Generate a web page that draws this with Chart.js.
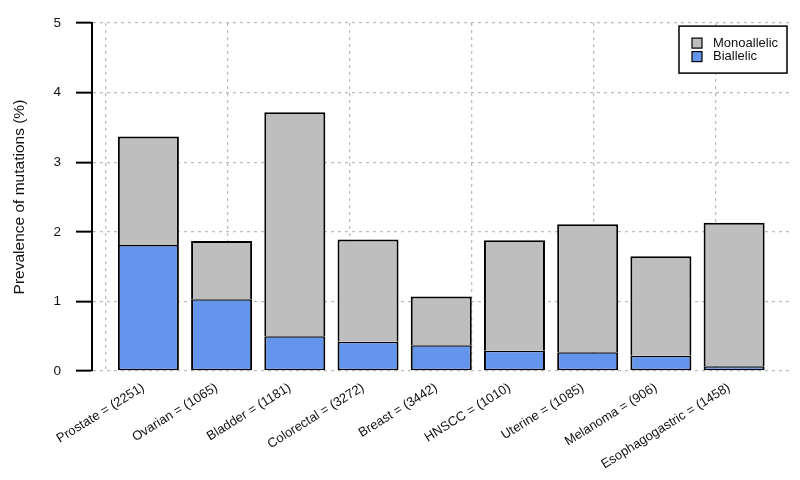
<!DOCTYPE html>
<html>
<head>
<meta charset="utf-8">
<script src="https://cdn.jsdelivr.net/npm/chart.js@4.4.1/dist/chart.umd.min.js"></script>
<style>
  html, body { margin: 0; padding: 0; background: #fff; }
  #wrap { width: 800px; height: 480px; position: relative; }
</style>
</head>
<body>
<div id="wrap"><canvas id="chart"></canvas></div>
<script>
// cancer types with sample size
const categories = [
    'Prostate = (2251)', 'Ovarian = (1065)', 'Bladder = (1181)',
    'Colorectal = (3272)', 'Breast = (3442)', 'HNSCC = (1010)',
    'Uterine = (1085)', 'Melanoma = (906)', 'Esophagogastric = (1458)'
];
// prevalence (%) of each part of the stacked bar
const biallelic   = [1.81, 1.03, 0.50, 0.42, 0.37, 0.29, 0.27, 0.22, 0.07];
const monoallelic = [1.56, 0.84, 3.22, 1.47, 0.70, 1.59, 1.84, 1.43, 2.06];
const yTicks = [0, 1, 2, 3, 4, 5];
const xGrid = [0, 2, 4, 6, 8, 10];

// barplot-like layout: bar width 1, space 0.2, axis range padded by 4%
const space = 0.2;
const center = i => space + i * (1 + space) + 0.5;
const xLo = space, xHi = categories.length * (1 + space);
const xPad = (xHi - xLo) * 0.04;

const FONT = '"Liberation Sans", Arial, sans-serif';
const GRID = '#bdbdbd';

const boxLegend = {
    id: 'boxLegend',
    afterDraw(chart) {
        const { ctx, chartArea } = chart;
        const items = chart.data.datasets.slice().reverse();
        const w = 108, h = 47;
        const x = chartArea.right - 3.5 - w, y = chartArea.top + 3;
        ctx.save();
        ctx.fillStyle = '#fff';
        ctx.fillRect(x, y, w, h);
        ctx.strokeStyle = '#000';
        ctx.lineWidth = 1.5;
        ctx.strokeRect(x, y, w, h);
        ctx.font = '13px ' + FONT;
        ctx.textBaseline = 'middle';
        items.forEach((ds, i) => {
            const cy = y + 17 + i * 13.5;
            ctx.fillStyle = ds.backgroundColor;
            ctx.fillRect(x + 13, cy - 5, 10, 10);
            ctx.lineWidth = 1.2;
            ctx.strokeRect(x + 13, cy - 5, 10, 10);
            ctx.fillStyle = '#111';
            ctx.fillText(ds.label, x + 34, cy);
        });
        ctx.restore();
    }
};

const barStyle = {
    borderColor: '#000',
    categoryPercentage: 1,
    barPercentage: 1 / (1 + space)
};

new Chart(document.getElementById('chart'), {
    type: 'bar',
    data: {
        datasets: [{
            label: 'Biallelic',
            data: biallelic.map((v, i) => ({ x: center(i), y: v })),
            backgroundColor: '#6495ED',
            borderWidth: { top: 1.5, bottom: 1.5, left: 2, right: 2 },
            borderSkipped: false,
            ...barStyle
        }, {
            label: 'Monoallelic',
            data: monoallelic.map((v, i) => ({ x: center(i), y: v })),
            backgroundColor: '#BEBEBE',
            borderWidth: 2,
            borderSkipped: 'bottom',
            ...barStyle
        }]
    },
    options: {
        responsive: true,
        maintainAspectRatio: false,
        animation: false,
        layout: { padding: { top: 10, right: 9.5, left: 0, bottom: 0 } },
        plugins: { legend: { display: false }, tooltip: { enabled: false } },
        scales: {
            x: {
                type: 'linear',
                stacked: true,
                offset: false,
                min: xLo - xPad,
                max: xHi + xPad,
                afterBuildTicks: s => { s.ticks = categories.map((_, i) => ({ value: center(i) })); },
                afterFit: s => { s.height = 109; },
                grid: { display: false, drawTicks: false, offset: false },
                border: { display: false },
                ticks: {
                    autoSkip: false,
                    minRotation: 32,
                    maxRotation: 32,
                    padding: 9,
                    labelOffset: -5,
                    color: '#111',
                    font: { family: FONT, size: 13 },
                    callback: (v, i) => categories[i]
                }
            },
            x2: {
                type: 'linear',
                position: 'bottom',
                offset: false,
                min: xLo - xPad,
                max: xHi + xPad,
                afterBuildTicks: s => { s.ticks = xGrid.map(v => ({ value: v })); },
                afterFit: s => { s.height = 0; },
                grid: { color: GRID, lineWidth: 1.3, drawTicks: false, offset: false },
                border: { display: false, dash: [3, 4] },
                ticks: { display: false }
            },
            y: {
                stacked: true,
                min: 0,
                max: 5,
                afterBuildTicks: s => { s.ticks = yTicks.map(v => ({ value: v })); },
                afterFit: s => { s.width = 92; },
                border: { display: true, color: '#000', width: 2, dash: [3, 4] },
                grid: {
                    color: GRID,
                    lineWidth: 1.3,
                    tickColor: '#000',
                    tickWidth: 2,
                    tickLength: 16,
                    tickBorderDash: []
                },
                ticks: {
                    padding: 15,
                    color: '#111',
                    font: { family: FONT, size: 13.5 }
                },
                title: {
                    display: true,
                    text: 'Prevalence of mutations (%)',
                    color: '#111',
                    font: { family: FONT, size: 15.5 },
                    padding: { top: 10, bottom: 0 }
                }
            }
        }
    },
    plugins: [boxLegend]
});
</script>
</body>
</html>
